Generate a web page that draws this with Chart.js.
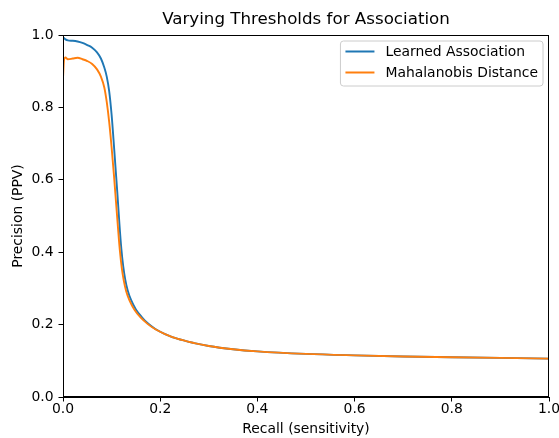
<!DOCTYPE html>
<html><head><meta charset="utf-8">
<script src="https://cdn.jsdelivr.net/npm/chart.js@4.4.1/dist/chart.umd.min.js"></script>
<style>html,body{margin:0;padding:0;background:#fff}canvas{display:block}</style>
</head>
<body>
<canvas id="c" width="559" height="438"></canvas>
<script>
const titleText = "Varying Thresholds for Association";
const xAxisLabel = "Recall (sensitivity)";
const yAxisLabel = "Precision (PPV)";
const seriesNames = ["Learned Association", "Mahalanobis Distance"];
const seriesColors = ["#1f77b4", "#ff7f0e"];
const tickValues = [0, 0.2, 0.4, 0.6, 0.8, 1.0];

const learnedRecall = [0, 0.005, 0.01, 0.02, 0.03, 0.04, 0.05, 0.06, 0.07, 0.078, 0.085, 0.09, 0.095, 0.1, 0.104, 0.108, 0.112, 0.116, 0.12, 0.124, 0.128, 0.133, 0.14, 0.15, 0.162, 0.175, 0.19, 0.21, 0.235, 0.27, 0.3, 0.35, 0.4, 0.5, 0.6, 0.7, 0.8, 0.9, 1.0];
const learnedPrecision = [0.994, 0.988, 0.985, 0.984, 0.982, 0.978, 0.972, 0.965, 0.952, 0.935, 0.91, 0.885, 0.845, 0.78, 0.71, 0.635, 0.56, 0.48, 0.41, 0.36, 0.325, 0.295, 0.268, 0.242, 0.221, 0.203, 0.188, 0.174, 0.161, 0.149, 0.141, 0.132, 0.126, 0.119, 0.115, 0.112, 0.110, 0.108, 0.106];

const mahalanobisRecall = [0, 0.002, 0.005, 0.01, 0.02, 0.03, 0.04, 0.05, 0.06, 0.07, 0.078, 0.085, 0.09, 0.095, 0.1, 0.105, 0.109, 0.113, 0.117, 0.121, 0.125, 0.13, 0.137, 0.147, 0.16, 0.174, 0.19, 0.21, 0.235, 0.27, 0.3, 0.35, 0.4, 0.5, 0.6, 0.7, 0.8, 0.9, 1.0];
const mahalanobisPrecision = [0.88, 0.93, 0.938, 0.933, 0.935, 0.937, 0.933, 0.928, 0.92, 0.905, 0.885, 0.855, 0.815, 0.76, 0.69, 0.61, 0.54, 0.47, 0.405, 0.356, 0.322, 0.292, 0.266, 0.241, 0.219, 0.202, 0.187, 0.174, 0.161, 0.149, 0.141, 0.132, 0.126, 0.119, 0.115, 0.112, 0.110, 0.108, 0.106];

const toPoints = (xs, ys) => xs.map((x, i) => ({x: x, y: ys[i]}));
const FONT = "'DejaVu Sans', 'Liberation Sans', sans-serif";
const TICK_SIZE = 13.9;

const framePlugin = {
  id: 'frame',
  afterDatasetsDraw(chart) {
    const {ctx, chartArea: a} = chart;
    ctx.save();
    ctx.strokeStyle = '#000';
    ctx.lineWidth = 1;
    ctx.strokeRect(Math.round(a.left) + 0.5, Math.round(a.top) + 0.5, Math.round(a.right - a.left) - 1, Math.round(a.bottom - a.top) - 1);
    ctx.restore();
  }
};

const legendPlugin = {
  id: 'mplLegend',
  afterDraw(chart) {
    const {ctx, chartArea: a} = chart;
    const ds = chart.data.datasets;
    const x0 = a.right - 6, y0 = a.top + 6;
    ctx.save();
    ctx.font = TICK_SIZE + "px " + FONT;
    let maxW = 0;
    ds.forEach(d => { maxW = Math.max(maxW, ctx.measureText(d.label).width); });
    const w = 5 + 29 + 11 + maxW + 5;
    const h = 45;
    const left = x0 - w, top = y0;
    const r = 3;
    ctx.beginPath();
    ctx.moveTo(left + r, top);
    ctx.arcTo(left + w, top, left + w, top + h, r);
    ctx.arcTo(left + w, top + h, left, top + h, r);
    ctx.arcTo(left, top + h, left, top, r);
    ctx.arcTo(left, top, left + w, top, r);
    ctx.closePath();
    ctx.fillStyle = 'rgba(255,255,255,0.8)';
    ctx.fill();
    ctx.strokeStyle = '#cccccc';
    ctx.lineWidth = 1;
    ctx.stroke();
    ds.forEach((d, i) => {
      const yy = top + 10.5 + i * 21;
      ctx.beginPath();
      ctx.strokeStyle = d.borderColor;
      ctx.lineWidth = 2;
      ctx.moveTo(left + 5, yy);
      ctx.lineTo(left + 34, yy);
      ctx.stroke();
      ctx.fillStyle = '#000';
      ctx.textBaseline = 'middle';
      ctx.textAlign = 'left';
      ctx.fillText(d.label, left + 45, yy + 0.5);
    });
    ctx.restore();
  }
};

const axisCommon = {
  type: 'linear',
  min: 0,
  max: 1,
  afterBuildTicks(scale) { scale.ticks = tickValues.map(v => ({value: v})); },
  grid: {display: true, drawOnChartArea: false, drawTicks: true, tickLength: 4.5, tickColor: '#000', tickWidth: 1, color: '#000'},
  border: {display: true, color: '#000', width: 1}
};

new Chart(document.getElementById('c'), {
  type: 'line',
  data: {
    datasets: [
      {label: seriesNames[0], order: 1, data: toPoints(learnedRecall, learnedPrecision), borderColor: seriesColors[0], backgroundColor: seriesColors[0], borderWidth: 1.9, pointRadius: 0, fill: false, cubicInterpolationMode: 'monotone'},
      {label: seriesNames[1], order: 0, data: toPoints(mahalanobisRecall, mahalanobisPrecision), borderColor: seriesColors[1], backgroundColor: seriesColors[1], borderWidth: 1.9, pointRadius: 0, fill: false, cubicInterpolationMode: 'monotone'}
    ]
  },
  options: {
    responsive: false,
    animation: false,
    devicePixelRatio: 1,
    layout: {padding: {left: 0, right: 10, top: 0, bottom: 0}},
    plugins: {
      legend: {display: false},
      tooltip: {enabled: false},
      title: {
        display: true, text: titleText, fullSize: false, color: '#000',
        font: {family: FONT, size: 16.7, weight: 'normal', lineHeight: 1.2},
        padding: {top: 9.5, bottom: 5.46}
      }
    },
    scales: {
      x: Object.assign({}, axisCommon, {
        position: 'bottom',
        ticks: {color: '#000', font: {family: FONT, size: TICK_SIZE}, padding: 0, maxRotation: 0, callback: v => Number(v).toFixed(1)},
        title: {display: true, text: xAxisLabel, color: '#000', font: {family: FONT, size: TICK_SIZE, lineHeight: 1.2}, padding: {top: 0, bottom: 0}},
        afterFit(s) { s.height = 41; s.paddingLeft = 0; s.paddingRight = 0; }
      }),
      y: Object.assign({}, axisCommon, {
        position: 'left',
        ticks: {color: '#000', font: {family: FONT, size: TICK_SIZE}, padding: 5, callback: v => Number(v).toFixed(1)},
        title: {display: true, text: yAxisLabel, color: '#000', font: {family: FONT, size: TICK_SIZE, lineHeight: 1.2}, padding: {top: 9.6, bottom: 0}},
        afterFit(s) { s.width = 63; s.paddingTop = 0; s.paddingBottom = 0; }
      })
    }
  },
  plugins: [framePlugin, legendPlugin]
});
</script>
</body></html>
